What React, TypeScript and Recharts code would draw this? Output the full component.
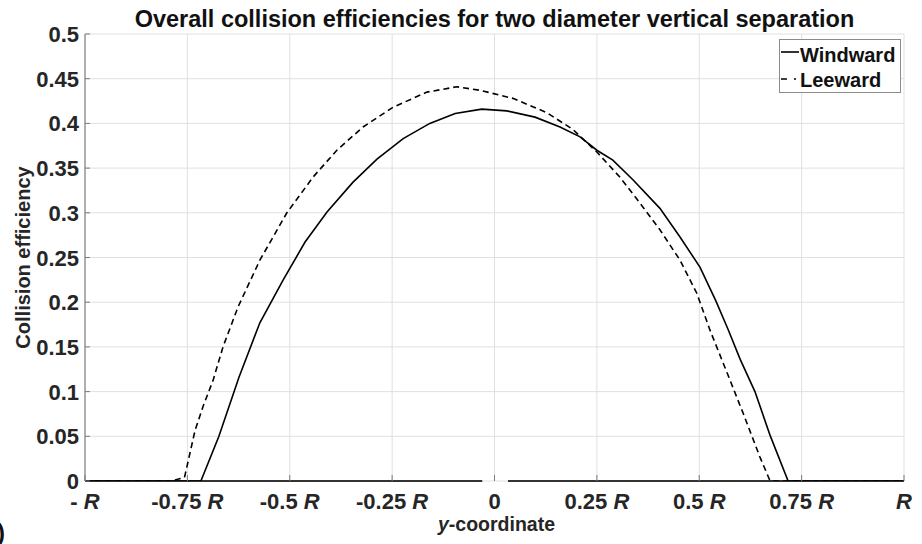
import React from "react";
import { LineChart, Line, XAxis, YAxis, CartesianGrid, Legend, Label, ReferenceLine } from "recharts";

const windwardX = [-1, -0.717, -0.673, -0.624, -0.573, -0.516, -0.463, -0.409, -0.346, -0.287, -0.223, -0.158, -0.096, -0.031, 0.03, 0.099, 0.16, 0.209, 0.25, 0.289, 0.338, 0.404, 0.453, 0.502, 0.54, 0.57, 0.6, 0.636, 0.673, 0.717, 1];
const windwardY = [0, 0, 0.05, 0.116, 0.177, 0.225, 0.267, 0.301, 0.334, 0.36, 0.383, 0.4, 0.411, 0.416, 0.414, 0.407, 0.396, 0.385, 0.37, 0.359, 0.337, 0.305, 0.273, 0.239, 0.202, 0.17, 0.136, 0.1, 0.051, 0, 0];
const leewardX = [-1, -0.79, -0.757, -0.731, -0.712, -0.687, -0.663, -0.626, -0.573, -0.507, -0.443, -0.385, -0.321, -0.248, -0.165, -0.092, -0.035, 0.045, 0.128, 0.192, 0.25, 0.306, 0.355, 0.404, 0.453, 0.494, 0.526, 0.568, 0.607, 0.648, 0.673, 0.7, 1];
const leewardY = [0, 0, 0.004, 0.057, 0.083, 0.113, 0.15, 0.195, 0.247, 0.3, 0.34, 0.37, 0.396, 0.418, 0.435, 0.441, 0.437, 0.428, 0.412, 0.393, 0.368, 0.34, 0.311, 0.281, 0.247, 0.21, 0.169, 0.121, 0.076, 0.027, 0, 0, 0];

const xTicks = [-1, -0.75, -0.5, -0.25, 0, 0.25, 0.5, 0.75, 1];
const xTickLabels = ["- R", "-0.75 R", "-0.5 R", "-0.25 R", "0", "0.25 R", "0.5 R", "0.75 R", "R"];
const yTicks = [0, 0.05, 0.1, 0.15, 0.2, 0.25, 0.3, 0.35, 0.4, 0.45, 0.5];
const yTickLabels = ["0", "0.05", "0.1", "0.15", "0.2", "0.25", "0.3", "0.35", "0.4", "0.45", "0.5"];
const seriesNames = ["Windward", "Leeward"];
const chartTitle = "Overall collision efficiencies for two diameter vertical separation";
const xTitleItalic = "y";
const xTitleRest = "-coordinate";
const yTitle = "Collision efficiency";

const windwardData = windwardX.map((x, i) => ({ x, y: windwardY[i] }));
const leewardData = leewardX.map((x, i) => ({ x, y: leewardY[i] }));

const FONT = "'Liberation Sans', Arial, Helvetica, sans-serif";
const TXT = "#262626";

const XTick = (props: any) => {
  const { x, y, payload } = props;
  const idx = xTicks.indexOf(payload.value);
  const label = idx >= 0 ? xTickLabels[idx] : String(payload.value);
  const hasR = label.endsWith("R");
  const pre = hasR ? label.slice(0, -1) : label;
  return (
    <g>
      <line x1={x} x2={x} y1={y} y2={y - 6} stroke="#7a7a7a" strokeWidth={1} />
      <text x={x} y={y + 28} textAnchor="middle" fontFamily={FONT} fontWeight="bold" fontSize={22} fill={TXT} style={{ whiteSpace: "pre" }}>
        {pre}
        {hasR ? <tspan fontStyle="italic">R</tspan> : null}
      </text>
    </g>
  );
};

const YTick = (props: any) => {
  const { x, y, payload } = props;
  const idx = yTicks.indexOf(payload.value);
  const label = idx >= 0 ? yTickLabels[idx] : String(payload.value);
  return (
    <g>
      <line x1={x} x2={x + 5} y1={y} y2={y} stroke="#7a7a7a" strokeWidth={1} />
      <text x={x - 6} y={y + 8} textAnchor="end" fontFamily={FONT} fontWeight="bold" fontSize={22} fill={TXT}>
        {label}
      </text>
    </g>
  );
};

const YTitle = (props: any) => {
  const vb = props.viewBox || { x: 0, y: 34, width: 85, height: 447 };
  const cx = vb.x + 30;
  const cy = vb.y + vb.height / 2;
  return (
    <text x={cx} y={cy} transform={`rotate(-90 ${cx} ${cy})`} textAnchor="middle" fontFamily={FONT} fontWeight="bold" fontSize={20} fill={TXT}>
      {yTitle}
    </text>
  );
};

const XTitle = (props: any) => {
  const vb = props.viewBox || { x: 85, y: 481, width: 819, height: 63 };
  const cx = vb.x + vb.width / 2 + 2;
  return (
    <text x={cx} y={vb.y + 50} textAnchor="middle" fontFamily={FONT} fontWeight="bold" fontSize={19.5} fill={TXT}>
      <tspan fontStyle="italic">{xTitleItalic}</tspan>
      {xTitleRest}
    </text>
  );
};

const LegendBox = () => (
  <svg width={123} height={55} style={{ display: "block" }}>
    <rect x={0.5} y={0.5} width={121} height={53} fill="#fff" stroke="#8c8c8c" strokeWidth={1} />
    <line x1={2} x2={20} y1={13} y2={13} stroke="#000" strokeWidth={1.6} />
    <text x={21} y={23} fontFamily={FONT} fontWeight="bold" fontSize={20} fill="#111">{seriesNames[0]}</text>
    <line x1={2} x2={17} y1={40} y2={40} stroke="#000" strokeWidth={1.6} strokeDasharray="6 7 3 100" />
    <text x={21} y={48} fontFamily={FONT} fontWeight="bold" fontSize={20} fill="#111">{seriesNames[1]}</text>
  </svg>
);

export default function App() {
  return (
    <div style={{ position: "absolute", left: 0, top: 0, width: 922, height: 544, background: "#fff" }}>
      <LineChart width={922} height={544} margin={{ top: 34, right: 18, left: 0, bottom: 0 }}>
        <CartesianGrid stroke="#e0e0e0" strokeWidth={1} />
        <XAxis
          type="number"
          dataKey="x"
          domain={[-1, 1]}
          ticks={xTicks}
          allowDataOverflow
          height={63}
          axisLine={false}
          tickLine={false}
          tickSize={0}
          tickMargin={0}
          tick={<XTick />}
          interval={0}
        >
          <Label content={<XTitle />} />
        </XAxis>
        <YAxis
          type="number"
          domain={[0, 0.5]}
          ticks={yTicks}
          allowDataOverflow
          width={85}
          axisLine={{ stroke: "#6e6e6e", strokeWidth: 1 }}
          tickLine={false}
          tickSize={0}
          tickMargin={0}
          tick={<YTick />}
          interval={0}
        >
          <Label content={<YTitle />} />
        </YAxis>
        <ReferenceLine segment={[{ x: -1, y: 0 }, { x: -0.03, y: 0 }]} stroke="#333" strokeWidth={2} ifOverflow="visible" />
        <ReferenceLine segment={[{ x: 0.033, y: 0 }, { x: 1, y: 0 }]} stroke="#333" strokeWidth={2} ifOverflow="visible" />
        <Line data={windwardData} dataKey="y" name={seriesNames[0]} type="linear" stroke="#000" strokeWidth={1.6} dot={false} activeDot={false} isAnimationActive={false} />
        <Line data={leewardData} dataKey="y" name={seriesNames[1]} type="linear" stroke="#000" strokeWidth={1.6} strokeDasharray="6 4" dot={false} activeDot={false} isAnimationActive={false} />
        <Legend
          layout="vertical"
          align="center"
          verticalAlign="middle"
          content={<LegendBox />}
          wrapperStyle={{ position: "absolute", left: 779, top: 39, width: 123, height: 55, right: "auto", bottom: "auto" }}
        />
      </LineChart>
      <svg width={922} height={544} style={{ position: "absolute", left: 0, top: 0, pointerEvents: "none" }}>
        <text x={494.5} y={27} textAnchor="middle" fontFamily={FONT} fontWeight="bold" fontSize={23.5} fill="#111">
          {chartTitle}
        </text>
        <text x={-3} y={541} fontFamily={FONT} fontWeight="bold" fontSize={24} fill="#111">)</text>
      </svg>
    </div>
  );
}
